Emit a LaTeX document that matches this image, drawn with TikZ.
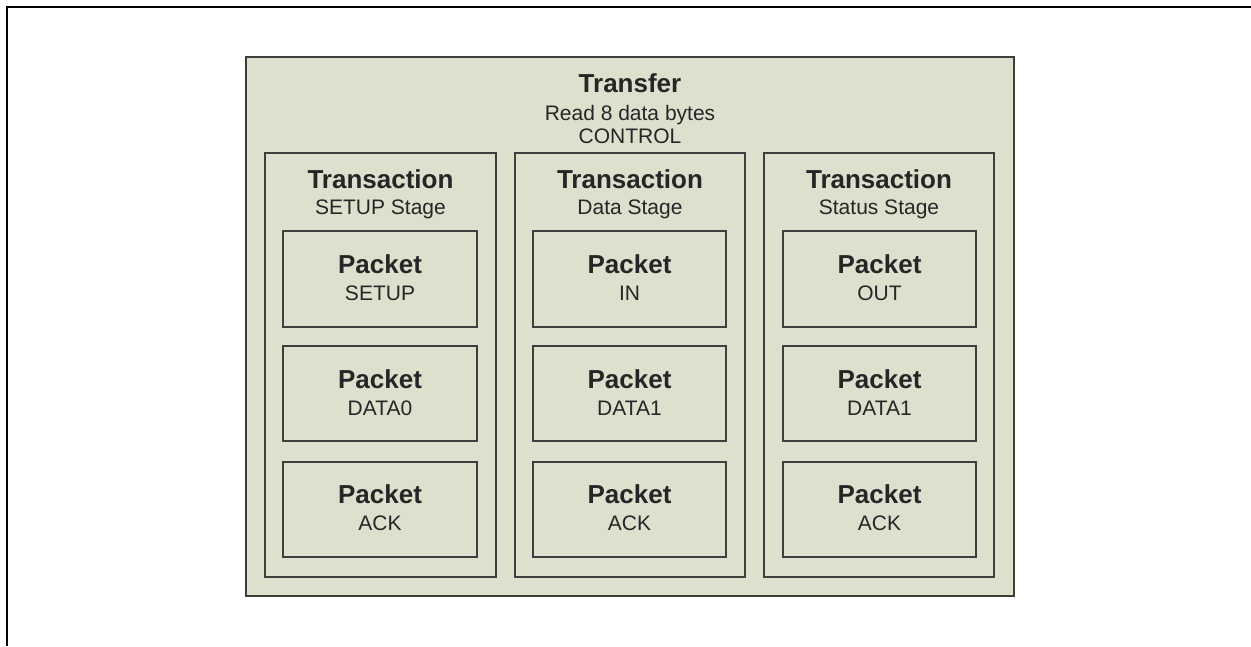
\documentclass[tikz,border=0pt]{standalone}
\usepackage{fontspec}
\setmainfont{Liberation Sans}
\usepackage{tikz}
\usetikzlibrary{calc}

\definecolor{boxfill}{RGB}{220,224,204}
\definecolor{boxline}{RGB}{62,62,62}
\definecolor{textgray}{RGB}{38,38,38}

\begin{document}
\begin{tikzpicture}[x=0.75pt,y=0.75pt,yscale=-1,xscale=1,
  frame/.style={draw=boxline,line width=1.5},
  heading/.style={font=\bfseries\fontsize{19.5}{22}\selectfont,text=textgray,anchor=base,inner sep=0pt},
  caption/.style={font=\fontsize{15.75}{18}\selectfont,text=textgray,anchor=base,inner sep=0pt}]
%set diagram left start at 0, and has width of 1251 and height of 646
\useasboundingbox (0,0) rectangle (1251,646);

%Straight Lines [id:outer frame]
\draw [line width=1.5]    (1251,6.5) -- (6.5,6.5) -- (6.5,646) ;

%Shape: Rectangle [id:transfer]
\draw  [frame,fill=boxfill] (245.5,56.5) rectangle (1014,596) ;
\node [heading] (transfer) at (630,92) {Transfer};
\node [caption] (transfer read) at (630,120) {Read 8 data bytes};
\node [caption] (transfer kind) at (630,143) {CONTROL};

%Shape: Rectangle [id:transaction setup]
\draw  [frame] (265,153) rectangle (496,577) ;
\node [heading] (setup) at (380.5,188) {Transaction};
\node [caption] (setup stage) at (380.5,214) {SETUP Stage};
%Shape: Rectangle [id:transaction data]
\draw  [frame] (515,153) rectangle (745,577) ;
\node [heading] (data) at (630,188) {Transaction};
\node [caption] (data stage) at (630,214) {Data Stage};
%Shape: Rectangle [id:transaction status]
\draw  [frame] (764,153) rectangle (994,577) ;
\node [heading] (status) at (879,188) {Transaction};
\node [caption] (status stage) at (879,214) {Status Stage};

%Shape: Rectangle [id:packets setup stage]
\draw  [frame] (283,231) rectangle (477,327) ;
\node [heading] (setup p1) at (380,273) {Packet};
\node [caption] (setup p1 pid) at (380,300) {SETUP};
\draw  [frame] (283,346) rectangle (477,441) ;
\node [heading] (setup p2) at (380,388) {Packet};
\node [caption] (setup p2 pid) at (380,415) {DATA0};
\draw  [frame] (283,462) rectangle (477,557) ;
\node [heading] (setup p3) at (380,503) {Packet};
\node [caption] (setup p3 pid) at (380,530) {ACK};

%Shape: Rectangle [id:packets data stage]
\draw  [frame] (533,231) rectangle (726,327) ;
\node [heading] (data p1) at (629.5,273) {Packet};
\node [caption] (data p1 pid) at (629.5,300) {IN};
\draw  [frame] (533,346) rectangle (726,441) ;
\node [heading] (data p2) at (629.5,388) {Packet};
\node [caption] (data p2 pid) at (629.5,415) {DATA1};
\draw  [frame] (533,462) rectangle (726,557) ;
\node [heading] (data p3) at (629.5,503) {Packet};
\node [caption] (data p3 pid) at (629.5,530) {ACK};

%Shape: Rectangle [id:packets status stage]
\draw  [frame] (783,231) rectangle (976,327) ;
\node [heading] (status p1) at (879.5,273) {Packet};
\node [caption] (status p1 pid) at (879.5,300) {OUT};
\draw  [frame] (783,346) rectangle (976,441) ;
\node [heading] (status p2) at (879.5,388) {Packet};
\node [caption] (status p2 pid) at (879.5,415) {DATA1};
\draw  [frame] (783,462) rectangle (976,557) ;
\node [heading] (status p3) at (879.5,503) {Packet};
\node [caption] (status p3 pid) at (879.5,530) {ACK};
\end{tikzpicture}
\end{document}
